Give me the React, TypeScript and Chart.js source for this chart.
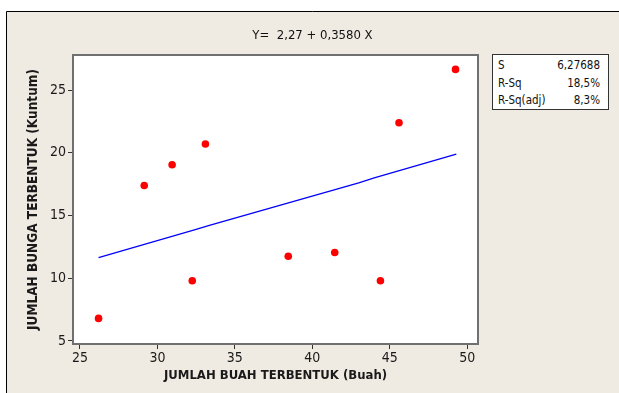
import React, { useEffect, useRef } from "react";
import { Chart, registerables } from "chart.js";

Chart.register(...registerables);

// Data
const buahX = [26.2, 29.15, 30.95, 33.1, 32.25, 38.45, 41.45, 44.4, 45.6, 49.25];
const bungaY = [6.8, 17.4, 19.05, 20.7, 9.8, 11.75, 12.05, 9.8, 22.4, 26.65];
const fitX = [26.2, 32.5, 33.3, 43.0, 44.0, 49.3];
const fitY = [11.65, 13.9, 14.2, 17.6, 18.0, 19.9];
const xTicks = [25, 30, 35, 40, 45, 50];
const yTicks = [5, 10, 15, 20, 25];
const titleText = "Y=  2,27 + 0,3580 X";
const statLabels = ["S", "R-Sq", "R-Sq(adj)"];
const statValues = ["6,27688", "18,5%", "8,3%"];
const xTitle = "JUMLAH BUAH TERBENTUK (Buah)";
const yTitle = "JUMLAH BUNGA TERBENTUK (Kuntum)";

const FONT = '"DejaVu Sans Condensed", "DejaVu Sans", sans-serif';
const BEIGE = "#EFEBE2";

export default function App() {
  const ref = useRef<HTMLCanvasElement | null>(null);

  useEffect(() => {
    if (!ref.current) return;
    const bgPlugin = {
      id: "bg",
      beforeDraw(chart: any) {
        const { ctx, width, height, chartArea } = chart;
        ctx.save();
        ctx.fillStyle = "#ffffff";
        ctx.fillRect(0, 0, width, height);
        ctx.fillStyle = BEIGE;
        ctx.fillRect(6, 11, width - 6, height - 11);
        ctx.strokeStyle = "#000000";
        ctx.lineWidth = 1;
        ctx.beginPath();
        ctx.moveTo(6.5, height);
        ctx.lineTo(6.5, 11.5);
        ctx.lineTo(width, 11.5);
        ctx.stroke();
        ctx.fillStyle = "#ffffff";
        ctx.fillRect(chartArea.left, chartArea.top, chartArea.right - chartArea.left, chartArea.bottom - chartArea.top);
        ctx.restore();
      },
      afterDraw(chart: any) {
        const { ctx, chartArea } = chart;
        ctx.save();
        ctx.strokeStyle = "#707070";
        ctx.lineWidth = 2;
        ctx.strokeRect(chartArea.left, chartArea.top, chartArea.right - chartArea.left, chartArea.bottom - chartArea.top);
        ctx.restore();
      },
    };

    const chart = new Chart(ref.current, {
      type: "scatter",
      data: {
        datasets: [
          {
            data: buahX.map((x, i) => ({ x, y: bungaY[i] })),
            pointBackgroundColor: "#FF0000",
            pointBorderWidth: 0,
            pointRadius: 3.8,
            showLine: false,
          } as any,
          {
            data: fitX.map((x, i) => ({ x, y: fitY[i] })),
            showLine: true,
            borderColor: "#0000FF",
            borderWidth: 1.2,
            pointRadius: 0,
            tension: 0,
          } as any,
        ],
      },
      options: {
        animation: false,
        responsive: false,
        layout: { padding: { left: 0, top: 55, right: 141, bottom: 0 } },
        plugins: { legend: { display: false }, tooltip: { enabled: false }, title: { display: false } },
        scales: {
          x: {
            type: "linear",
            min: 24.55,
            max: 50.7,
            afterBuildTicks: (s: any) => {
              s.ticks = xTicks.map((v) => ({ value: v }));
            },
            afterFit: (s: any) => {
              s.height = 49;
            },
            ticks: { font: { family: FONT, size: 14 }, color: "#1a1a1a", padding: 1, maxRotation: 0 },
            grid: { drawOnChartArea: false, drawTicks: true, tickLength: 5, color: "#333333" },
            border: { display: false },
            title: {
              display: true,
              text: xTitle,
              font: { family: FONT, size: 13, weight: "bold" },
              color: "#1a1a1a",
              padding: { top: 0, bottom: 10 },
            },
          },
          y: {
            type: "linear",
            min: 4.76,
            max: 27.8,
            afterBuildTicks: (s: any) => {
              s.ticks = yTicks.map((v) => ({ value: v }));
            },
            afterFit: (s: any) => {
              s.width = 73;
            },
            ticks: { font: { family: FONT, size: 14 }, color: "#1a1a1a", padding: 2 },
            grid: { drawOnChartArea: false, drawTicks: true, tickLength: 5, color: "#333333" },
            border: { display: false },
            title: {
              display: true,
              text: yTitle,
              font: { family: FONT, size: 13.5, weight: "bold" },
              color: "#1a1a1a",
              padding: { top: 25, bottom: 0 },
            },
          },
        },
      },
      plugins: [bgPlugin],
    } as any);
    return () => chart.destroy();
  }, []);

  return (
    <div style={{ position: "absolute", left: 0, top: 0, width: 619, height: 393, fontFamily: FONT }}>
      <canvas ref={ref} width={619} height={393} style={{ display: "block" }} />
      <div
        style={{
          position: "absolute",
          left: 6,
          width: 613,
          top: 27,
          textAlign: "center",
          fontSize: 13,
          whiteSpace: "pre",
          color: "#111",
          lineHeight: "16px",
        }}
      >
        {titleText}
      </div>
      <div
        style={{
          position: "absolute",
          left: 492,
          top: 54,
          width: 115,
          height: 54,
          border: "1px solid #333",
          background: "#fff",
          fontSize: 11.5,
          color: "#111",
          boxSizing: "content-box",
        }}
      >
        {statLabels.map((l, i) => (
          <div
            key={l}
            style={{
              position: "absolute",
              left: 5,
              right: 8,
              top: 2 + i * 17.5,
              height: 17,
              lineHeight: "17px",
              display: "flex",
              justifyContent: "space-between",
            }}
          >
            <span>{l}</span>
            <span>{statValues[i]}</span>
          </div>
        ))}
      </div>
    </div>
  );
}
